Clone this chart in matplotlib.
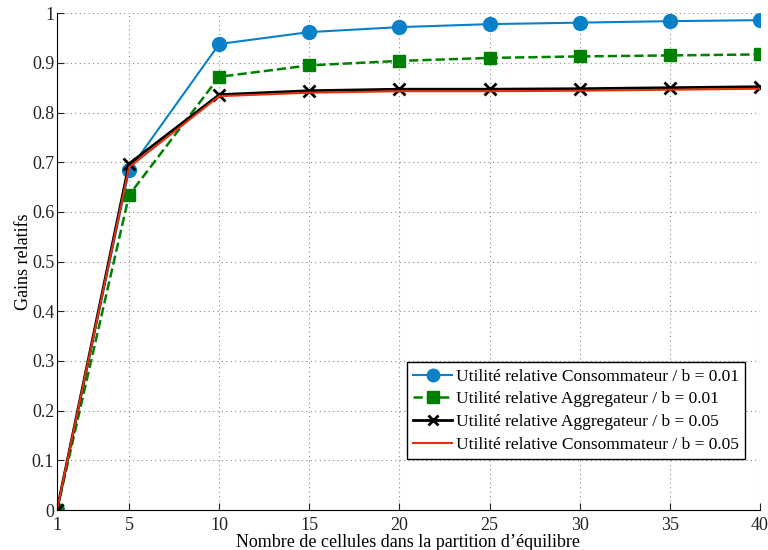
import matplotlib
matplotlib.use("Agg")
import matplotlib.pyplot as plt

x = [1, 5, 10, 15, 20, 25, 30, 35, 40]
cons_001 = [0.0, 0.684, 0.938, 0.962, 0.972, 0.978, 0.981, 0.984, 0.986]
aggr_001 = [0.0, 0.634, 0.872, 0.895, 0.904, 0.910, 0.913, 0.915, 0.917]
aggr_005 = [0.0, 0.697, 0.836, 0.844, 0.847, 0.847, 0.848, 0.850, 0.852]
cons_005 = [0.0, 0.690, 0.833, 0.840, 0.843, 0.843, 0.844, 0.846, 0.848]
xticks = [1, 5, 10, 15, 20, 25, 30, 35, 40]
yticks = [0, 0.1, 0.2, 0.3, 0.4, 0.5, 0.6, 0.7, 0.8, 0.9, 1]
ytick_labels = ["0", "0.1", "0.2", "0.3", "0.4", "0.5", "0.6", "0.7", "0.8", "0.9", "1"]

plt.rcParams['font.family'] = ['Liberation Serif', 'DejaVu Serif']

fig = plt.figure(figsize=(7.68, 5.50), dpi=100)
ax = fig.add_axes([0.0742, 0.0727, 0.9154, 0.9033])

ax.plot(x, cons_001, '-', color='#0a80c8', lw=1.5, marker='o', ms=10,
        label='Utilité relative Consommateur / b = 0.01')
ax.plot(x, aggr_001, '--', color='#008000', lw=1.8, marker='s', ms=9,
        label='Utilité relative Aggregateur / b = 0.01')
ax.plot(x, aggr_005, '-', color='black', lw=2.0, marker='x', ms=8, mew=2,
        label='Utilité relative Aggregateur / b = 0.05')
ax.plot(x, cons_005, '-', color='#e0300e', lw=1.5,
        label='Utilité relative Consommateur / b = 0.05')

ax.set_xlim(1, 40)
ax.set_ylim(0, 1)
ax.set_xticks(xticks)
ax.set_yticks(yticks)
ax.set_yticklabels(ytick_labels)
ax.tick_params(direction='in', length=5, labelsize=13, colors='#222222')
ax.tick_params(axis='x', pad=5)
ax.tick_params(axis='y', pad=2)
ax.grid(True, linestyle=(0, (1, 3)), color='#888888', lw=0.8)
ax.spines['top'].set_visible(False)
ax.spines['right'].set_visible(False)
ax.set_xlabel("Nombre de cellules dans la partition d’équilibre", fontsize=13, labelpad=0)
ax.set_ylabel("Gains relatifs", fontsize=13, labelpad=0)

leg = ax.legend(loc='lower right', bbox_to_anchor=(0.9787, 0.1026), borderaxespad=0,
                fontsize=12.5, frameon=True, fancybox=False, edgecolor='black',
                framealpha=1, handlelength=2.2, handletextpad=0.25,
                borderpad=0.35, labelspacing=0.38, markerscale=0.9)
leg.get_frame().set_linewidth(1.0)

fig.savefig("out.png", dpi=100)
